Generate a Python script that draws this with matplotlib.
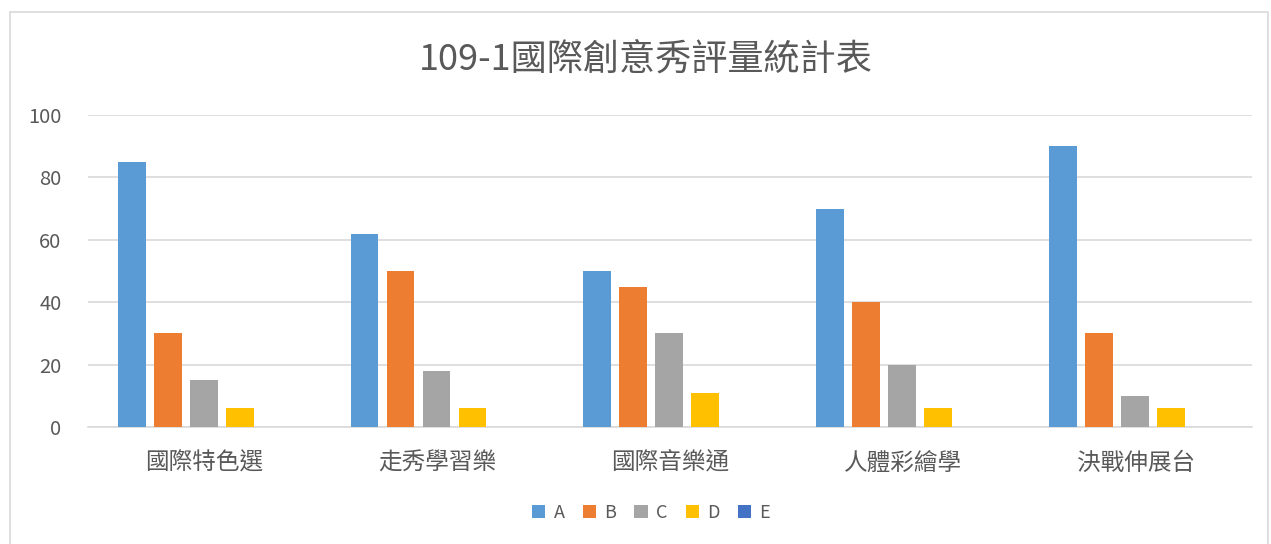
import numpy as np
import matplotlib
matplotlib.use("Agg")
import matplotlib.pyplot as plt
from matplotlib.patches import Rectangle

plt.rcParams['font.family'] = ['Noto Sans CJK TC', 'DejaVu Sans']

categories = ["國際特色選", "走秀學習樂", "國際音樂通", "人體彩繪學", "決戰伸展台"]
series_names = ["A", "B", "C", "D", "E"]
a_vals = [85, 62, 50, 70, 90]
b_vals = [30, 50, 45, 40, 30]
c_vals = [15, 18, 30, 20, 10]
d_vals = [6, 6, 11, 6, 6]
e_vals = [0, 0, 0, 0, 0]
colors = ["#5B9BD5", "#ED7D31", "#A5A5A5", "#FFC000", "#4472C4"]
y_ticks = [0, 20, 40, 60, 80, 100]

text_color = "#595959"

fig = plt.figure(figsize=(12.71, 5.44), dpi=100)
# chart border
fig.patches.append(Rectangle((10 / 1271, -0.01), 1258 / 1271, 1 - 12 / 544 + 0.01,
                             transform=fig.transFigure, fill=False,
                             edgecolor="#D9D9D9", linewidth=1.2))

ax = fig.add_axes([88 / 1271, 1 - 427 / 544, (1252 - 88) / 1271, 312 / 544])

x = np.arange(len(categories))
slot = 0.1546
width = 0.12
all_vals = [a_vals, b_vals, c_vals, d_vals, e_vals]
for i, (name, vals) in enumerate(zip(series_names, all_vals)):
    ax.bar(x + (i - 2) * slot - 0.003, vals, width, color=colors[i], label=name, zorder=3)

ax.set_xlim(-0.5, len(categories) - 0.5)
ax.set_ylim(0, 100)
ax.set_yticks(y_ticks)
ax.set_xticks(x)
ax.set_xticklabels(categories, fontsize=17, color=text_color)
ax.tick_params(axis="y", labelsize=14.5, labelcolor=text_color, length=0, pad=19)
ax.tick_params(axis="x", length=0, pad=18)
ax.grid(axis="y", color="#D9D9D9", linewidth=1.2, zorder=0)
for s in ["top", "right", "left"]:
    ax.spines[s].set_visible(False)
ax.spines["bottom"].set_color("#D9D9D9")
ax.spines["bottom"].set_linewidth(1.2)

fig.text(646 / 1271, 1 - 60 / 544, "109-1國際創意秀評量統計表", ha="center", va="center",
         fontsize=26, color=text_color)

fig.legend(loc="center", bbox_to_anchor=(651 / 1271, 1 - 513 / 544), ncol=5, frameon=False,
           fontsize=13, labelcolor=text_color, handlelength=0.75, handleheight=0.75,
           handletextpad=0.45, columnspacing=1.0)

fig.savefig("out.png", dpi=100, facecolor="white")
